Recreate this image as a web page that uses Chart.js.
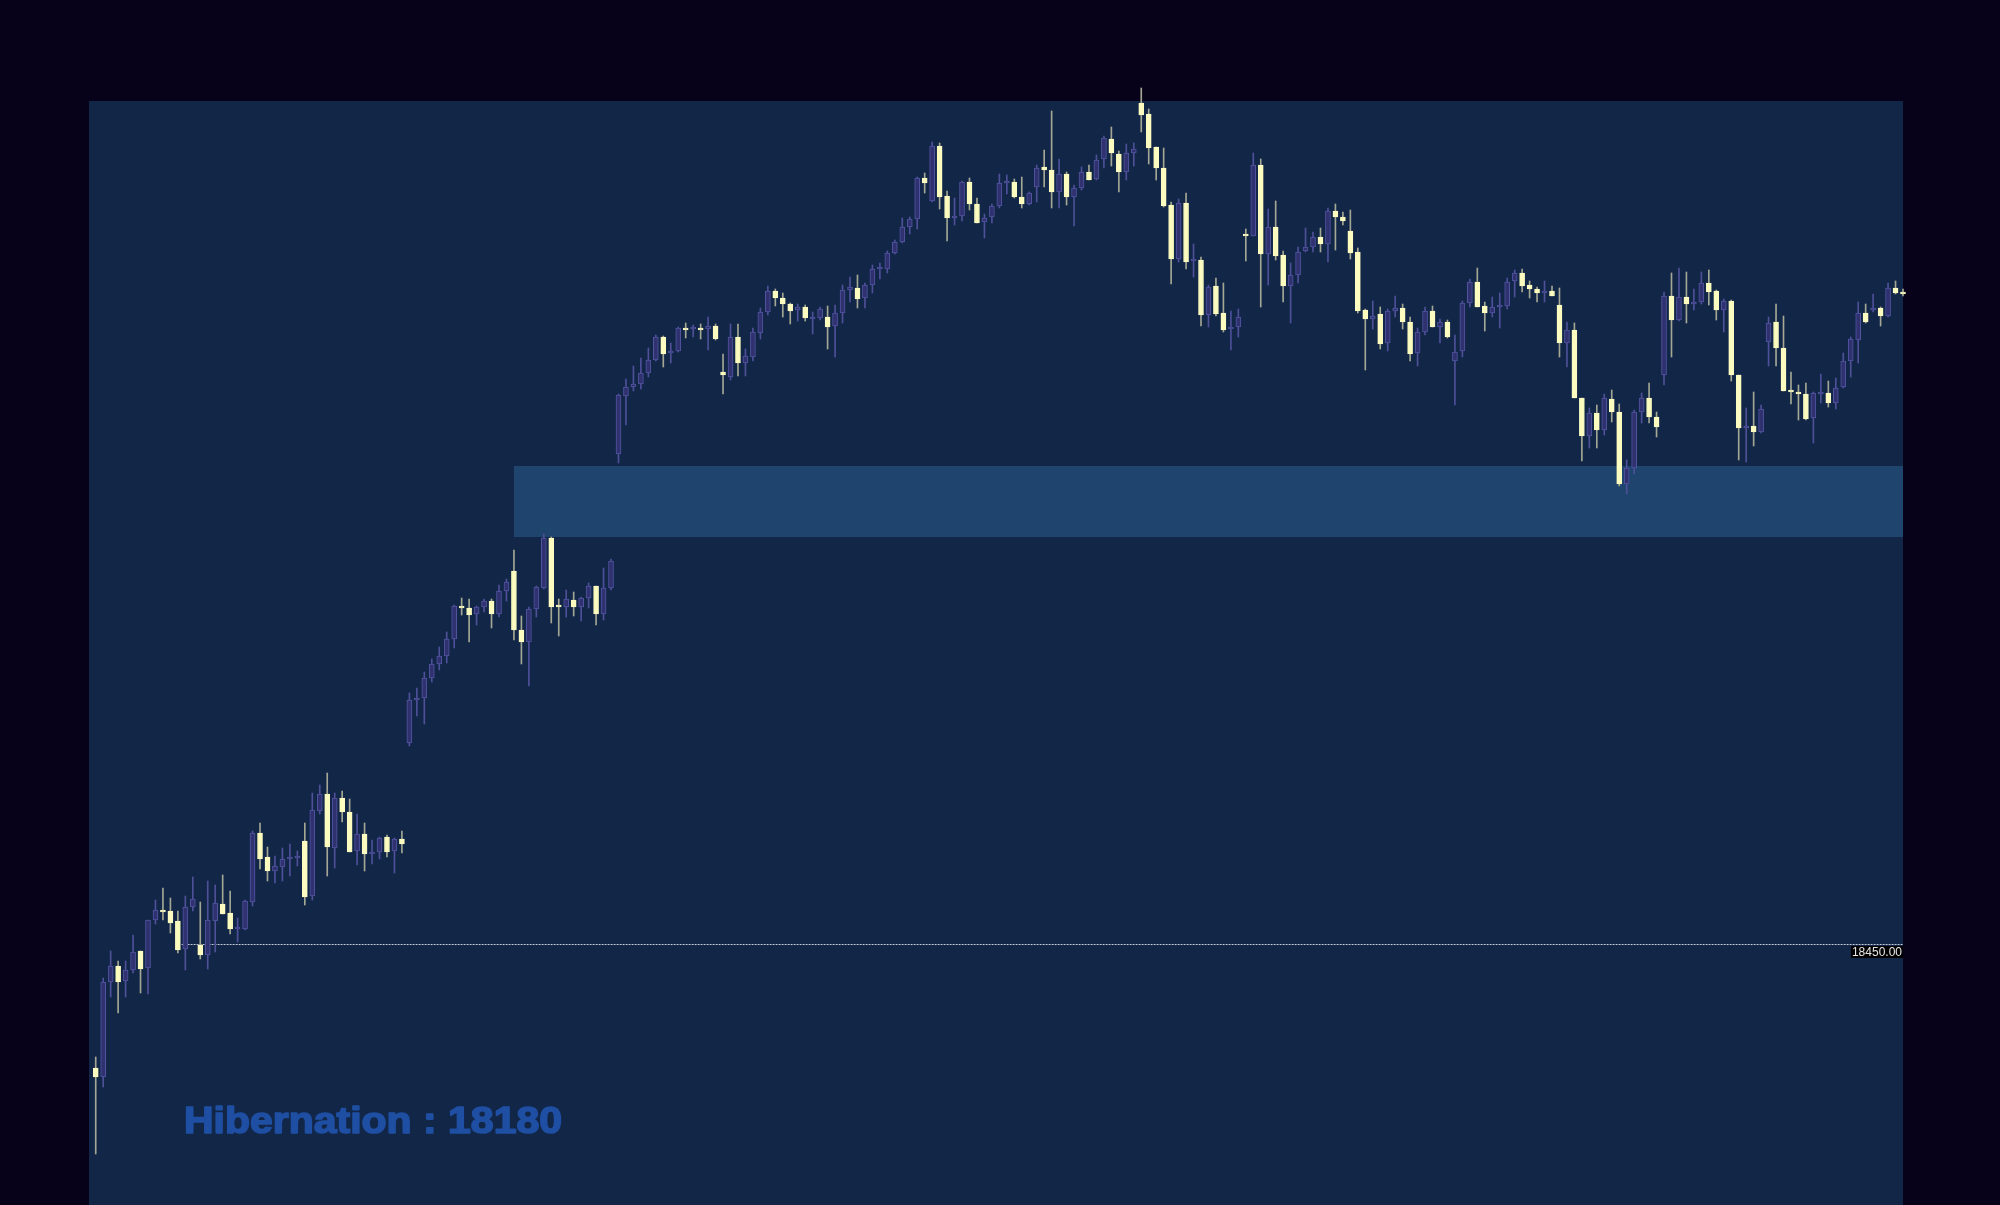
<!DOCTYPE html>
<html>
<head>
<meta charset="utf-8">
<title>Hibernation</title>
<script src="https://cdn.jsdelivr.net/npm/chart.js@4.4.1/dist/chart.umd.min.js"></script>
<style>
    html, body { margin: 0; padding: 0; background: #07021a; }
    #graphCanvas { display: block; }
</style>
</head>
<body>
<canvas id="graphCanvas" width="2000" height="1205"></canvas>
<script>

// velas: apertura, maximo, minimo, cierre
var apertura = [18327,18318,18413,18429,18414,18425,18444,18427,18475,18485,18484,18474,18446,18488,18450,18440,18474,18491,18482,18466,
    18466,18493,18562,18538,18524,18528,18536,18537,18554,18499,18584,18601,18547,18597,18583,18544,18561,18541,18543,18558,
    18544,18556,18652,18695,18697,18717,18731,18739,18756,18789,18787,18781,18788,18794,18781,18804,18824,18765,18753,18786,
    18807,18857,18789,18788,18795,18788,18797,18809,18781,18807,18941,18999,19008,19011,19022,19035,19058,19042,19044,19067,
    19066,19067,19066,19069,19023,19018,19058,19032,19038,19062,19083,19104,19097,19091,19085,19088,19076,19077,19078,19069,
    19082,19105,19107,19097,19110,19126,19126,19142,19153,19168,19176,19217,19194,19249,19199,19177,19179,19213,19191,19173,
    19178,19189,19212,19213,19198,19191,19208,19228,19225,19203,19221,19198,19207,19223,19216,19236,19256,19241,19223,19242,
    19292,19281,19248,19227,19190,19136,19192,19134,19135,19080,19109,19082,19066,19068,19161,19159,19230,19141,19168,19140,
    19109,19120,19144,19148,19158,19151,19184,19178,19164,19143,19085,19076,19081,19052,19084,19087,19073,19042,19063,19084,
    19068,19073,19034,19044,19092,19113,19089,19082,19088,19089,19114,19122,19110,19106,19102,19104,19090,19052,19065,18997,
    18959,18982,18965,18996,18983,18911,18927,18983,18997,18978,19020,19099,19075,19098,19091,19093,19112,19104,19085,19094,
    19020,18967,18969,18963,19053,19073,19047,19005,19003,19001,18977,19001,19002,18992,19008,19034,19055,19082,19085,19087,
    19079,19107,19103];
var maximo = [18338,18417,18444,18434,18434,18460,18444,18475,18495,18507,18497,18484,18499,18518,18493,18514,18510,18520,18504,18477,
    18495,18564,18572,18548,18539,18547,18551,18544,18572,18602,18610,18622,18602,18604,18596,18581,18572,18555,18558,18560,
    18557,18564,18702,18707,18723,18736,18748,18763,18790,18797,18796,18789,18796,18796,18810,18816,18845,18779,18788,18809,
    18861,18858,18796,18805,18803,18798,18812,18809,18827,18836,19001,19016,19029,19037,19047,19060,19059,19052,19068,19072,
    19070,19071,19078,19071,19041,19071,19071,19046,19067,19087,19109,19106,19102,19092,19091,19090,19083,19088,19089,19090,
    19110,19118,19120,19112,19130,19132,19144,19155,19177,19178,19218,19222,19253,19252,19204,19197,19214,19217,19197,19181,
    19191,19221,19220,19216,19218,19203,19230,19245,19284,19236,19223,19210,19228,19230,19240,19259,19268,19244,19251,19252,
    19307,19286,19248,19247,19193,19196,19202,19151,19138,19110,19117,19112,19084,19086,19166,19242,19236,19186,19194,19144,
    19132,19148,19167,19163,19167,19187,19191,19183,19185,19147,19086,19094,19088,19086,19099,19091,19078,19067,19088,19089,
    19076,19075,19060,19094,19116,19127,19093,19098,19102,19117,19125,19126,19114,19108,19114,19109,19107,19073,19072,18997,
    18987,18990,19001,19005,18991,18935,18985,19002,19012,18983,19103,19122,19127,19123,19106,19123,19125,19105,19096,19095,
    19020,18987,19003,18990,19078,19091,19079,19023,19010,19012,19003,19021,19014,19017,19042,19058,19093,19091,19101,19088,
    19112,19114,19106];
var minimo = [18241,18308,18398,18382,18398,18422,18402,18401,18471,18475,18462,18442,18425,18484,18436,18426,18443,18481,18461,18453,
    18465,18489,18526,18514,18512,18514,18519,18529,18490,18495,18581,18519,18527,18573,18543,18530,18524,18531,18536,18538,
    18522,18542,18649,18679,18671,18713,18725,18732,18747,18780,18753,18770,18783,18767,18778,18794,18755,18731,18709,18778,
    18806,18772,18759,18778,18779,18774,18787,18770,18775,18805,18932,18970,19004,19006,19018,19034,19028,19032,19043,19057,
    19058,19056,19045,19055,19001,19015,19019,19019,19034,19056,19080,19089,19078,19071,19074,19074,19061,19075,19046,19038,
    19072,19093,19087,19087,19102,19116,19122,19141,19152,19161,19166,19202,19193,19186,19154,19170,19174,19185,19172,19157,
    19172,19187,19201,19197,19187,19190,19193,19208,19187,19187,19190,19169,19205,19215,19215,19227,19229,19203,19215,19229,
    19263,19231,19215,19188,19111,19133,19126,19118,19069,19068,19079,19063,19045,19058,19134,19159,19088,19110,19135,19093,
    19072,19112,19143,19143,19143,19133,19145,19170,19136,19082,19025,19066,19046,19044,19078,19066,19034,19029,19060,19068,
    19052,19057,18990,19038,19088,19088,19064,19078,19067,19086,19098,19103,19097,19093,19093,19099,19038,19028,18997,18934,
    18947,18947,18960,18973,18909,18901,18921,18972,18972,18958,19010,19038,19074,19072,19085,19091,19090,19075,19063,19014,
    18935,18933,18949,18962,19029,19029,19004,18991,18975,18975,18952,18992,18988,18986,19007,19018,19032,19072,19083,19069,
    19078,19101,19099];
var cierre = [18318,18413,18429,18413,18425,18443,18426,18475,18485,18483,18472,18445,18488,18496,18440,18475,18492,18481,18466,18468,
    18494,18562,18536,18524,18529,18536,18537,18538,18498,18585,18601,18548,18597,18583,18543,18561,18541,18543,18557,18543,
    18556,18551,18695,18697,18717,18731,18739,18756,18789,18787,18780,18788,18794,18781,18804,18813,18765,18753,18786,18808,
    18857,18788,18788,18796,18788,18797,18809,18781,18807,18834,19000,19008,19011,19022,19035,19058,19041,19044,19067,19065,
    19067,19065,19069,19056,19020,19058,19032,19039,19063,19083,19104,19097,19091,19084,19088,19077,19078,19086,19068,19082,
    19105,19108,19096,19110,19126,19127,19142,19153,19168,19176,19217,19212,19249,19198,19177,19179,19213,19191,19172,19177,
    19189,19212,19213,19198,19191,19202,19227,19225,19203,19221,19198,19207,19223,19215,19235,19257,19242,19223,19242,19246,
    19280,19247,19227,19189,19136,19192,19133,19136,19080,19108,19081,19065,19068,19078,19159,19230,19141,19168,19139,19109,
    19120,19143,19148,19158,19151,19184,19178,19174,19142,19084,19076,19079,19051,19084,19087,19073,19041,19063,19084,19068,
    19073,19058,19043,19092,19113,19088,19082,19088,19090,19113,19122,19109,19106,19102,19104,19099,19052,19065,18997,18959,
    18982,18965,18997,18983,18911,18927,18983,18997,18978,18968,19099,19075,19098,19091,19093,19112,19103,19085,19094,19020,
    18967,18968,18963,18986,19072,19047,19004,19003,19001,18976,19002,19002,18992,19007,19034,19056,19082,19073,19087,19079,
    19107,19102,19101];

// escala de precios y zona marcada
var precioMin = 18190;
var precioMax = 19294;
var zonaDesde = 56;            // vela donde empieza la zona
var zonaBaja = 18858;
var zonaAlta = 18929;
var nivelLinea = 18450;
var nivelDesde = 11.5;
var nivelTexto = "18450.00";
var titulo = "Hibernation : 18180";

var colorSube = '#30326f';
var bordeSube = '#5254a0';
var mechaSube = '#4e5098';
var colorBaja = '#fcfcc0';
var mechaBaja = '#a3a793';

function armarDatos() {
    var mechas = [];
    var cuerpos = [];
    var fondo = [];
    var borde = [];
    var colMecha = [];
    for (var i = 0; i < apertura.length; i++) {
        var sube = cierre[i] >= apertura[i];
        mechas.push({x: i, y: [minimo[i], maximo[i]]});
        cuerpos.push({x: i, y: [apertura[i], cierre[i]]});
        fondo.push(sube ? colorSube : colorBaja);
        borde.push(sube ? bordeSube : colorBaja);
        colMecha.push(sube ? mechaSube : mechaBaja);
    }
    return {mechas: mechas, cuerpos: cuerpos, fondo: fondo, borde: borde, colMecha: colMecha};
}

// fondo del panel, zona y linea punteada
var panelPlugin = {
    id: 'panel',
    beforeDatasetsDraw: function (chart) {
        var ctx = chart.ctx;
        var a = chart.chartArea;
        var x = chart.scales.x;
        var y = chart.scales.y;
        ctx.save();
        ctx.fillStyle = '#122648';
        ctx.fillRect(a.left, a.top, a.right - a.left, a.bottom - a.top);

        var zx = x.getPixelForValue(zonaDesde);
        var zt = y.getPixelForValue(zonaAlta);
        var zb = y.getPixelForValue(zonaBaja);
        ctx.fillStyle = '#1f446e';
        ctx.fillRect(zx, zt, a.right - zx, zb - zt);

        var ly = Math.round(y.getPixelForValue(nivelLinea)) - 0.5;
        ctx.strokeStyle = '#c4cad6';
        ctx.lineWidth = 1;
        ctx.setLineDash([2, 1]);
        ctx.beginPath();
        ctx.moveTo(x.getPixelForValue(nivelDesde), ly);
        ctx.lineTo(a.right, ly);
        ctx.stroke();
        ctx.restore();
    },
    afterDraw: function (chart) {
        var ctx = chart.ctx;
        var a = chart.chartArea;
        var y = chart.scales.y;
        ctx.save();
        // etiqueta del nivel
        var ly = Math.round(y.getPixelForValue(nivelLinea));
        ctx.font = '12px "Liberation Sans", Arial, sans-serif';
        var w = ctx.measureText(nivelTexto).width + 2;
        ctx.fillStyle = '#000000';
        ctx.fillRect(a.right - w, ly + 1, w, 12);
        ctx.fillStyle = '#e6e6e6';
        ctx.textAlign = 'right';
        ctx.textBaseline = 'middle';
        ctx.fillText(nivelTexto, a.right - 1, ly + 7.5);

        // titulo
        ctx.font = 'bold 37px "Liberation Sans", Arial, sans-serif';
        ctx.textAlign = 'left';
        ctx.textBaseline = 'alphabetic';
        var tw = ctx.measureText(titulo).width;
        var esc = 378 / tw;
        ctx.translate(184, 1133);
        ctx.scale(esc, 1);
        ctx.fillStyle = '#1f4fa3';
        ctx.strokeStyle = '#1f4fa3';
        ctx.lineWidth = 1.6;
        ctx.lineJoin = 'round';
        ctx.fillText(titulo, 0, 0);
        ctx.strokeText(titulo, 0, 0);
        ctx.restore();
    }
};

function showGraph() {
    var d = armarDatos();
    var graphTarget = document.getElementById('graphCanvas');

    window.grafica = new Chart(graphTarget, {
        type: 'bar',
        data: {
            datasets: [
            {
                label: 'cuerpo',
                data: d.cuerpos,
                backgroundColor: d.fondo,
                borderColor: d.borde,
                borderWidth: 1,
                borderSkipped: false,
                barThickness: 5,
                minBarLength: 2,
                grouped: false,
                clip: false,
                order: 1
            },
            {
                label: 'mecha',
                data: d.mechas,
                backgroundColor: d.colMecha,
                borderWidth: 0,
                barThickness: 1,
                minBarLength: 1,
                grouped: false,
                clip: false,
                order: 2
            }
            ]
        },
        options: {
            responsive: false,
            animation: false,
            events: [],
            layout: {padding: {left: 89, top: 101, right: 97, bottom: 0}},
            plugins: {
                legend: {display: false},
                tooltip: {enabled: false},
                title: {display: false}
            },
            scales: {
                x: {type: 'linear', display: false, min: -0.9, max: 242, offset: false},
                y: {type: 'linear', display: false, min: precioMin, max: precioMax}
            }
        },
        plugins: [panelPlugin]
    });
}

showGraph();
</script>
</body>
</html>
